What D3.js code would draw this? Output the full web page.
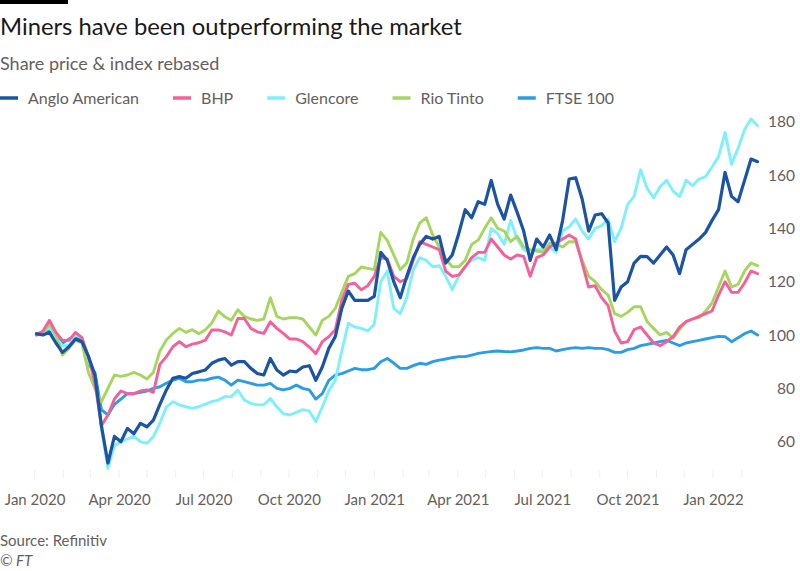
<!DOCTYPE html>
<html>
<head>
<meta charset="utf-8">
<script src="https://cdn.jsdelivr.net/npm/d3@7"></script>
<style>
  html, body { margin: 0; padding: 0; background: #ffffff; }
  svg { display: block; font-family: Lato, "Open Sans", sans-serif; }
</style>
</head>
<body>
<svg id="chart" width="800" height="571"></svg>
<script>
// ---------- DATA ----------
const titleText = "Miners have been outperforming the market";
const subtitleText = "Share price & index rebased";
const sourceText = "Source: Refinitiv";
const creditText = "\u00A9 FT";

const seriesNames = ["Anglo American", "BHP", "Glencore", "Rio Tinto", "FTSE 100"];
const seriesColors = ["#1a54a3", "#f5609a", "#7ef0fb", "#a7d65e", "#2b9de6"];

const xTickLabels = ["2020-01-01","2020-04-01","2020-07-01","2020-10-01","2021-01-01","2021-04-01","2021-07-01","2021-10-01","2022-01-01"];
const yTickValues = [60, 80, 100, 120, 140, 160, 180];

const dates = [
"2020-01-03","2020-01-10","2020-01-17","2020-01-24","2020-01-31","2020-02-07","2020-02-14","2020-02-21","2020-02-28",
"2020-03-06","2020-03-13","2020-03-20","2020-03-27","2020-04-03","2020-04-10","2020-04-17","2020-04-24",
"2020-05-01","2020-05-08","2020-05-15","2020-05-22","2020-05-29","2020-06-05","2020-06-12","2020-06-19","2020-06-26",
"2020-07-03","2020-07-10","2020-07-17","2020-07-24","2020-07-31","2020-08-07","2020-08-14","2020-08-21","2020-08-28",
"2020-09-04","2020-09-11","2020-09-18","2020-09-25","2020-10-02","2020-10-09","2020-10-16","2020-10-23","2020-10-30",
"2020-11-06","2020-11-13","2020-11-20","2020-11-27","2020-12-04","2020-12-11","2020-12-18","2020-12-25",
"2021-01-01","2021-01-08","2021-01-15","2021-01-22","2021-01-29","2021-02-05","2021-02-12","2021-02-19","2021-02-26",
"2021-03-05","2021-03-12","2021-03-19","2021-03-26","2021-04-02","2021-04-09","2021-04-16","2021-04-23","2021-04-30",
"2021-05-07","2021-05-14","2021-05-21","2021-05-28","2021-06-04","2021-06-11","2021-06-18","2021-06-25",
"2021-07-02","2021-07-09","2021-07-16","2021-07-23","2021-07-30","2021-08-06","2021-08-13","2021-08-20","2021-08-27",
"2021-09-03","2021-09-10","2021-09-17","2021-09-24","2021-10-01","2021-10-08","2021-10-15","2021-10-22","2021-10-29",
"2021-11-05","2021-11-12","2021-11-19","2021-11-26","2021-12-03","2021-12-10","2021-12-17","2021-12-24","2021-12-31",
"2022-01-07","2022-01-14","2022-01-21","2022-01-28","2022-02-04","2022-02-11","2022-02-18"
];

const angloAmerican = [
100.5,100,101,97,93.5,95.6,98.5,97.5,92,
85,66,52,62,60,65,63,66.9,
65.6,68.1,74,79.4,83.8,84.4,83.8,85.6,86.2,
86.9,89.4,90.6,91.2,88.7,90,90,87.5,85.6,
85,91.2,86.9,85,86.5,86.2,88,88.5,83,
88,95,99.4,110,116.5,113,113,113,
114.5,131,128,120,114,122,129,134,137,
136,137,127,130,138,147,144,150,149,
158,149,143.5,152.5,146,139,128,136,
133,137.5,132,143,158.5,159,151,139,145,
145.5,142,113,118,120,127,129.5,129.4,127,
130,133,130,123,132,134,136,138.5,143,
147,161,152,150,158,166,165
];

const bhp = [
100,101.5,105.5,101,98,98,101,99,92,
82,66,70,76,79,78,78,79,
79.4,78.5,89,91.9,95.6,97.5,95.6,96.6,97.1,
98.1,101.9,101.9,101.2,100,106.2,106.2,102.5,101.2,
100.6,105,102.5,100.6,98.5,98.5,97.5,95.5,93,
97.5,99.4,102,113,119,119.4,117,118.5,
122,129,128.5,122,120,121,128,135,134,
133,132,124,122,122.5,125.6,129,131,131,
136,133,130,128.5,130,129.5,122,129,
130,133,134.5,136,137.5,136,127,118,118.5,
114,111,101.5,97,97.5,102,103,100,97,
96,97.5,99.4,103,105,106,107,108,109,
115,120,116,116,119.5,124,123
];

const glencore = [
100.5,101,103,99,96,96,100,99,90,
85,65,50,58.5,60,61,62,60,
59.4,61.9,67,73,75,73.8,73.1,72.5,73.1,
74.1,75,75.6,76.9,76.9,79.4,75.6,74.4,73.8,
73.8,76.2,73.1,70.5,70,71,72,71.5,67.5,
73,79,83,94,104.4,103,102.5,101.5,
104,120,124,110,108,114,124.4,129,128,
125.6,126,122,117,122,125.6,128.1,129,128,
140,138,134,143,136,132,131,132,
132,133,131,139,140.6,143.5,139,136,140,
141,143.5,135,140,149,152,162,155,151.5,
155.6,158,154,151.9,158,156,158.5,159.4,163,
166.9,176,164,170,177,181,178.5
];

const rioTinto = [
100.5,101,104,100,92.5,95,98,97,86,
80,75,80,85,84.5,85,86,85,
83.5,86,94,98.1,100.6,102.5,101,102,100.5,
102,104.5,109,106.9,105.5,109.5,107,106,105.5,
106,114,107,106,106.5,106.5,106,103,100,
105.5,107,110,116,122,123,125.5,125,
124.5,138.5,135.5,130,124.5,127,136,142,144,
137.5,133,128.5,125.6,125.6,128,134,135.6,140,
144,140,139,135,137,133,132,131.5,
131,134.5,134,133,135,135,128,122,120,
117,115,108,107,108.5,110.6,110.6,105,102.5,
100,101,98.8,102,105,106,106.5,109,112,
118,124,118,119,124,127,126
];

const ftse100 = [
100,101,101.5,99.5,97,98.5,99.5,98.5,89,
86,72,70,74,76,78,78,78.5,
79,80,80.6,81.9,83.1,83.8,82.5,82.5,83.1,
83.1,83.8,84.2,83.1,81.2,83.1,82.5,81.9,81.2,
81.2,81.9,80,79.4,80,81.2,80,79.4,76,
78,83,85,85.5,86.5,87.5,87,87,
87.5,90,91.2,89.5,87.5,87.5,88.5,89.4,89,
90,90.6,91,91.5,91.9,91.9,92.5,93.1,93.5,
93.8,94,93.8,93.7,94,94.4,95,95.3,
95,95,94,94.5,95,95.3,95,95.3,95,
95,94.5,93.5,93.5,94.5,95,96,96.5,97,
97.5,98,97,96,97,97.5,98,98.5,99,
99.5,99.4,97.5,99,100.5,101.5,100
];

const seriesValues = [angloAmerican, bhp, glencore, rioTinto, ftse100];

// ---------- CHART ----------
const svg = d3.select("#chart");
const parse = d3.utcParse("%Y-%m-%d");
const dateObjs = dates.map(parse);

const x = d3.scaleUtc()
  .domain([parse("2020-01-01"), parse("2022-01-01")])
  .range([34.6, 713]);

const y = d3.scaleLinear()
  .domain([60, 180])
  .range([441.7, 121.7]);

const labelGrey = "#66605c";

// header
svg.append("rect").attr("x", 0).attr("y", 0).attr("width", 68).attr("height", 4).attr("fill", "#000");
svg.append("text").attr("x", 0).attr("y", 35)
  .attr("font-size", 23.8).attr("fill", "#1a1a1a").text(titleText);
svg.append("text").attr("x", 0).attr("y", 70)
  .attr("font-size", 18).attr("fill", labelGrey).text(subtitleText);

// legend
const legend = svg.append("g").attr("transform", "translate(0,98)");
let lx = 0;
seriesNames.forEach((name, i) => {
  const g = legend.append("g").attr("transform", `translate(${lx},0)`);
  g.append("line").attr("x1", 0).attr("x2", 18).attr("y1", 0).attr("y2", 0)
    .attr("stroke", seriesColors[i]).attr("stroke-width", 3.5);
  const t = g.append("text").attr("x", 28).attr("y", 5.8)
    .attr("font-size", 16).attr("fill", labelGrey).text(name);
  const w = t.node().getComputedTextLength();
  lx += 28 + w + 34;
});

// faint monthly ticks at the bottom
const monthTicks = d3.utcMonth.range(parse("2020-01-01"), parse("2022-03-01"));
svg.append("g").selectAll("line").data(monthTicks).join("line")
  .attr("x1", d => x(d)).attr("x2", d => x(d))
  .attr("y1", 470).attr("y2", 478)
  .attr("stroke", "#f0f0f0").attr("stroke-width", 1);

// x axis labels
const xAxis = d3.axisBottom(x)
  .tickValues(xTickLabels.map(parse))
  .tickFormat(d3.utcFormat("%b %Y"))
  .tickSize(0).tickPadding(0);
const gx = svg.append("g").attr("transform", "translate(0,494)").call(xAxis);
gx.select(".domain").remove();
gx.selectAll("text").attr("font-size", 15).attr("fill", labelGrey)
  .attr("font-family", "Lato, 'Open Sans', sans-serif");

// y axis labels (right)
const yAxis = d3.axisRight(y).tickValues(yTickValues).tickSize(0).tickPadding(0);
const gy = svg.append("g").attr("transform", "translate(795,0)").call(yAxis);
gy.select(".domain").remove();
gy.selectAll("text").attr("text-anchor", "end").attr("x", 0).attr("font-size", 15.5)
  .attr("fill", labelGrey).attr("font-family", "Lato, 'Open Sans', sans-serif");

// lines (draw FTSE first, Anglo last on top)
const line = d3.line()
  .x((d, i) => x(dateObjs[i]))
  .y(d => y(d))
  .curve(d3.curveLinear);

const order = [4, 2, 3, 1, 0];
const gl = svg.append("g");
order.forEach(i => {
  gl.append("path")
    .datum(seriesValues[i])
    .attr("fill", "none")
    .attr("stroke", seriesColors[i])
    .attr("stroke-width", i === 0 ? 3.2 : 2.9)
    .attr("stroke-linejoin", "round")
    .attr("stroke-linecap", "round")
    .attr("d", line);
});

// footer
svg.append("text").attr("x", 0).attr("y", 546)
  .attr("font-size", 15).attr("fill", labelGrey).text(sourceText);
svg.append("text").attr("x", 0).attr("y", 566)
  .attr("font-size", 15).attr("font-style", "italic").attr("fill", labelGrey).text(creditText);
</script>
</body>
</html>
